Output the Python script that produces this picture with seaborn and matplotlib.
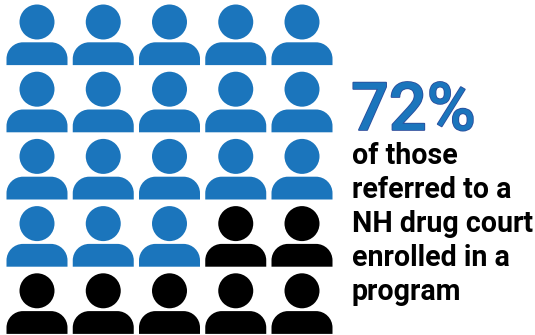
import matplotlib
matplotlib.use("Agg")
import matplotlib.pyplot as plt
import matplotlib.patheffects as pe
from matplotlib.path import Path
import numpy as np
import pandas as pd
import seaborn as sns

total_icons = [25]
enrolled_icons = [18]
rows_count = 5
cols_count = 5
headline = "72%"
caption_lines = ["of those", "referred to a", "NH drug court", "enrolled in a", "program"]
group_names = ["Enrolled", "Not enrolled"]
group_colors = ["#1B75BC", "#000000"]

# Person glyph: round head above a dome-shouldered torso, centred on the origin.
def person_path():
    head = Path.circle((0, 12.8), 17.5)
    k = 0.5523
    w, top, bot, r = 30.5, -7.5, -30.3, 16.5
    verts = [(-w, bot), (-w, top - r),
             (-w, top - r + r * k), (-w + r - r * k, top), (-w + r, top),
             (w - r, top),
             (w - r + r * k, top), (w, top - r + r * k), (w, top - r),
             (w, bot), (-w, bot)]
    codes = [Path.MOVETO, Path.LINETO, Path.CURVE4, Path.CURVE4, Path.CURVE4,
             Path.LINETO, Path.CURVE4, Path.CURVE4, Path.CURVE4,
             Path.LINETO, Path.CLOSEPOLY]
    return Path.make_compound_path(head, Path(verts, codes))

order = np.arange(total_icons[0])
icons = pd.DataFrame({
    "col": order % cols_count,
    "row": order // rows_count,
    "group": np.where(order < enrolled_icons[0], group_names[0], group_names[1]),
})

fig = plt.figure(figsize=(5.35, 3.35), dpi=100, facecolor="white")
ax = fig.add_axes([0, 0, 1, 1])

marker = person_path()
extent_px = 2 * np.abs(marker.vertices).max()
sns.scatterplot(
    data=icons, x="col", y="row", hue="group",
    hue_order=group_names, palette=group_colors,
    marker=marker, s=(extent_px * 72 / 100) ** 2, linewidth=0,
    legend=False, ax=ax,
)

col_step, row_step = 66.25, 67.2
ax.set_xlim(-37 / col_step, (535 - 37) / col_step)
ax.set_ylim((335 - 34.8) / row_step, -34.8 / row_step)
ax.axis("off")

ax.text(351 / 535, 1 - 130 / 335, headline, transform=ax.transAxes,
        family="Roboto", fontweight="medium", fontsize=48, color="#1B75BC",
        ha="left", va="baseline",
        path_effects=[pe.withStroke(linewidth=1.2, foreground="#2B4C9B")])

for i, line in enumerate(caption_lines):
    ax.text(351.5 / 535, 1 - (163.7 + i * 34) / 335, line, transform=ax.transAxes,
            family="Roboto", fontweight="bold", fontsize=20.6, color="black",
            ha="left", va="baseline")

fig.savefig("out.png", dpi=100)
